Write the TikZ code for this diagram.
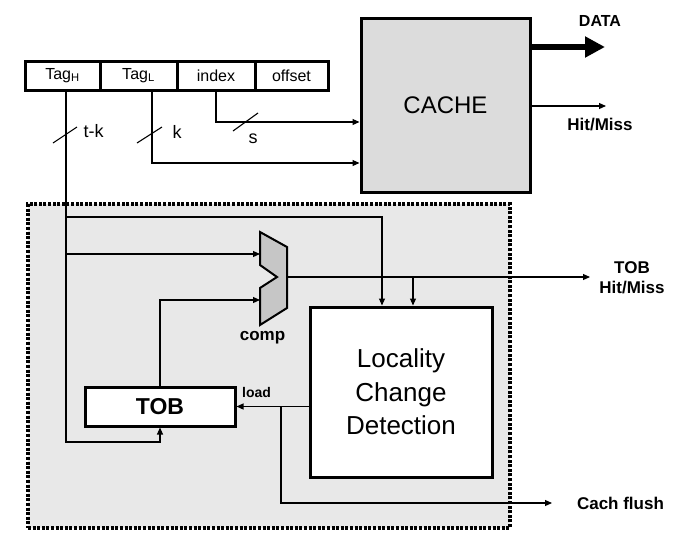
\documentclass[tikz,border=0pt]{standalone}
\usepackage{fontspec}
\setmainfont{Liberation Sans}
\usetikzlibrary{arrows.meta,calc}
\definecolor{cachegray}{HTML}{DCDCDC}
\definecolor{compgray}{HTML}{C6C6C6}
\definecolor{regiongray}{HTML}{E8E8E8}
\begin{document}
\begin{tikzpicture}[x=1pt,y=-1pt,
  line/.style={line width=1.1pt},
  arr/.style={line width=1.1pt,-{Triangle[length=7pt,width=6pt]}},
  fld/.style={draw,line width=3pt,fill=white,minimum height=29pt,inner sep=0pt,font=\fontsize{16}{18}\selectfont},
  blk/.style={draw,line width=3pt,inner sep=0pt},
  lbl/.style={font=\bfseries\fontsize{17}{20}\selectfont,align=center,inner sep=0pt},
  num/.style={font=\fontsize{18}{20}\selectfont,inner sep=0pt}]
\useasboundingbox (0,0) rectangle (686,544);

% region
\node[draw,line width=3.5pt,dash pattern=on 3pt off 1.6pt,fill=regiongray,
      minimum width=482pt,minimum height=324pt,inner sep=0pt] (region) at (269,366) {};

% address register
\node[fld,minimum width=75pt] (tagh) at (62.5,75.5) {Tag\textsubscript{H}};
\node[fld,minimum width=77pt] (tagl) at (138.5,75.5) {Tag\textsubscript{L}};
\node[fld,minimum width=78pt] (idx) at (216,75.5) {index};
\node[fld,minimum width=73pt] (off) at (291.5,75.5) {offset};

% blocks
\node[blk,fill=cachegray,minimum width=169pt,minimum height=174pt,
      font=\fontsize{24}{28}\selectfont] (cache) at (445.5,105) {CACHE};
\node[blk,fill=white,minimum width=182pt,minimum height=170pt,align=center,
      font=\fontsize{26}{33.5}\selectfont] (lcd) at (401,392) {Locality\\Change\\Detection};
\node[blk,fill=white,minimum width=150pt,minimum height=39pt,
      font=\bfseries\fontsize{23}{26}\selectfont] (tob) at (160,406.5) {TOB};

% comparator
\draw[line width=2pt,fill=compgray,line join=miter]
  (260,232) -- (287,247) -- (287,308) -- (260,325) -- (260,288) -- (277,277) -- (260,265) -- cycle;
\coordinate (cin1) at (260,254);
\coordinate (cin2) at (260,300);
\coordinate (cout) at (287,277);

% helper coordinates
\coordinate (hx) at (66,0);
\coordinate (hb) at (66,442);
\coordinate (b1) at (66,217);
\coordinate (lx) at (152,0);
\coordinate (lx1) at (382,0);
\coordinate (lx2) at (413,0);
\coordinate (fx) at (281,0);
\coordinate (in1) at (0,122);
\coordinate (in2) at (0,163);
\coordinate (dataend) at (605,47);
\coordinate (hmend) at (606,106);
\coordinate (tobhmend) at (590,277);
\coordinate (flushend) at (552,503);

% connectors to cache
\draw[arr] (idx.south) |- (cache.west |- in1);
\draw[arr] (tagl.south -| lx) |- (cache.west |- in2);
\draw[line width=6.5pt,-{Triangle[length=20pt,width=20pt]}] (cache.east |- dataend) -- (dataend);
\draw[arr] (cache.east |- hmend) -- (hmend);

% tag high bus
\draw[arr] (tagh.south -| hx) -- (hb) -| (tob.south);
\draw[arr] (b1) -| (lcd.north -| lx1);
\draw[arr] (cin1 -| hx) -- (cin1);
\draw[arr] (tob.north) |- (cin2);
\draw[arr] (cout) -- (tobhmend);
\draw[arr] (cout -| lx2) -- (lcd.north -| lx2);
\draw[arr] (lcd.west |- tob.east) -- (tob.east);
\draw[arr] (fx |- tob.east) |- (flushend);

% bus width marks
\draw[line] (53,143) -- (77,127);
\draw[line] (137,143) -- (162,127);
\draw[line] (233,131) -- (258,113);
\node[num] (tk) at (93.5,131) {t-k};
\node[num] (kk) at (177,132) {k};
\node[num] (ss) at (253,139) {s};

% labels
\node[lbl,font=\bfseries\fontsize{16}{19}\selectfont] (data) at (600,20.5) {DATA};
\node[lbl] (hm) at (600,125) {Hit/Miss};
\node[lbl] (tobhm) at (632,278) {TOB\\Hit/Miss};
\node[lbl] (flush) at (620.5,503.5) {Cach flush};
\node[lbl] (comp) at (262.5,338) {comp};
\node[lbl,font=\bfseries\fontsize{14}{16}\selectfont] (load) at (256.5,392) {load};
\end{tikzpicture}
\end{document}
